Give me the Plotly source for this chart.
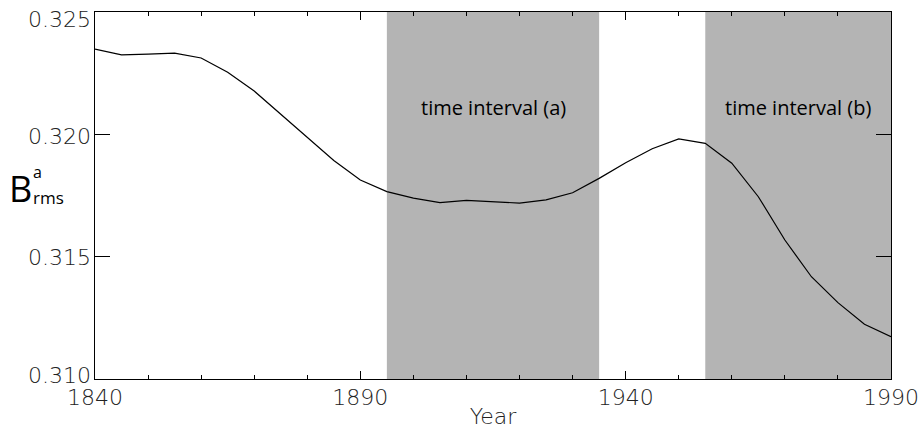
import plotly.graph_objects as go

years = [1840, 1845, 1850, 1855, 1860, 1865, 1870, 1875, 1880, 1885, 1890, 1895, 1900,
         1905, 1910, 1915, 1920, 1925, 1930, 1935, 1940, 1945, 1950, 1955, 1960, 1965,
         1970, 1975, 1980, 1985, 1990]
brms = [0.32348, 0.32325, 0.32328, 0.32332, 0.32312, 0.32254, 0.32177, 0.32082, 0.31989,
        0.31893, 0.31813, 0.31766, 0.31739, 0.31721, 0.31730, 0.31725, 0.31719, 0.31732,
        0.31761, 0.31820, 0.31884, 0.31941, 0.31981, 0.31963, 0.31882, 0.31745, 0.31568,
        0.31418, 0.31312, 0.31224, 0.31173]

intervals = [(1895, 1935, "time interval (a)"), (1955, 1990, "time interval (b)")]
xticks = [1840, 1890, 1940, 1990]
yticks = [0.310, 0.315, 0.320, 0.325]
ytick_text = ["0.310", "0.315", "0.320", "0.325"]
ytick_shift = [4, -1, -2, -7]   # IDL-style nudging of the end labels

tickfont = dict(family="DejaVu Sans", size=22, color="#222222", weight=200)
labfont = "Open Sans"

fig = go.Figure()
fig.add_trace(go.Scatter(x=years, y=brms, mode="lines",
                         line=dict(color="black", width=1.2), showlegend=False))

for x0, x1, label in intervals:
    fig.add_shape(type="rect", xref="x", yref="y", x0=x0, x1=x1, y0=0.310, y1=0.325,
                  fillcolor="#b4b4b4", line=dict(width=0), layer="below")
    fig.add_annotation(x=(x0 + x1) / 2, y=0.3211, xref="x", yref="y", text=label,
                       showarrow=False, font=dict(family=labfont, size=20, color="black"))

# y tick labels placed on the axis scale
for v, t, s in zip(yticks, ytick_text, ytick_shift):
    fig.add_annotation(xref="paper", yref="y", x=0, y=v, text=t, showarrow=False,
                       xanchor="right", yanchor="middle", xshift=-2, yshift=s,
                       font=tickfont)

# y-axis title  B^a_rms
fig.add_annotation(xref="paper", yref="paper", x=-0.094, y=0.52, xanchor="center",
                   yanchor="middle", text="B", showarrow=False,
                   font=dict(family=labfont, size=36, color="black"))
fig.add_annotation(xref="paper", yref="paper", x=-0.081, y=0.565, xanchor="left",
                   yanchor="middle", text="a", showarrow=False,
                   font=dict(family=labfont, size=16, color="black"))
fig.add_annotation(xref="paper", yref="paper", x=-0.081, y=0.495, xanchor="left",
                   yanchor="middle", text="rms", showarrow=False,
                   font=dict(family=labfont, size=17, color="black"))

fig.update_xaxes(range=[1840, 1990], tickvals=xticks, ticks="inside", ticklen=8,
                 tickwidth=1, tickcolor="black", showline=True, linecolor="black",
                 linewidth=1, mirror="ticks", showgrid=False, zeroline=False,
                 tickfont=tickfont, ticklabelstandoff=-1, automargin=False,
                 ticklabeloverflow="allow",
                 minor=dict(dtick=10, tick0=1840, ticks="inside", ticklen=4,
                            tickcolor="black", showgrid=False),
                 title=dict(text="Year", font=tickfont, standoff=9))
fig.update_yaxes(range=[0.310, 0.325], tickvals=yticks, showticklabels=False,
                 ticks="inside", ticklen=15, tickwidth=1, tickcolor="black",
                 showline=True, linecolor="black", linewidth=1, mirror="ticks",
                 showgrid=False, zeroline=False, automargin=False)

fig.update_layout(width=923, height=429, margin=dict(l=95, r=32, t=12, b=50),
                  plot_bgcolor="white", paper_bgcolor="white")

fig.write_html("out.html")
